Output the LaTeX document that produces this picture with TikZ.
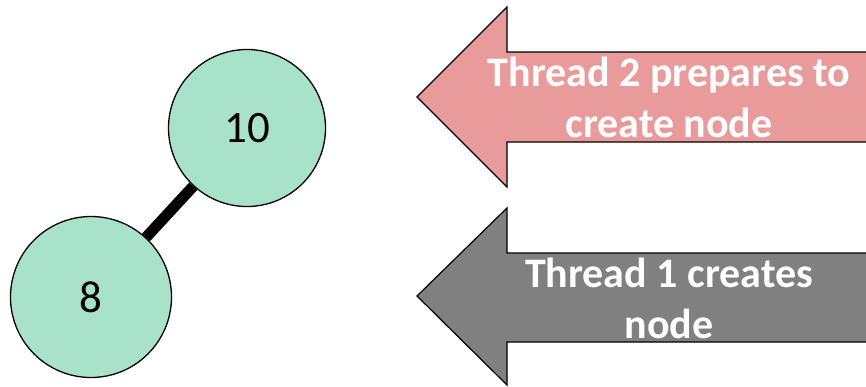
\documentclass[tikz,border=0pt]{standalone}
\usepackage{fontspec}
\setmainfont{Carlito}
\usepackage{tikz}
\usetikzlibrary{backgrounds}
\definecolor{nodefill}{HTML}{A9E2CB}
\definecolor{pending}{HTML}{E99A9A}
\definecolor{done}{HTML}{808080}

\begin{document}
\begin{tikzpicture}[x=1pt, y=-1pt,
    treenode/.style={circle, draw, line width=1.3pt, fill=nodefill, inner sep=0pt,
        font=\fontsize{45}{50}\selectfont},
    thread/.style={draw=black, line width=1.2pt},
    threadtext/.style={text=white, align=center, anchor=base,
        font=\bfseries\fontsize{42}{51}\selectfont}]
    \clip (0,0) rectangle (866,386);

    % Tree: 8 hangs off the left of 10
    \node[treenode, minimum size=157pt] (n10) at (247,128) {10};
    \node[treenode, minimum size=161pt] (n8) at (91,297) {8};
    \begin{scope}[on background layer]
        \draw[line width=11pt] (n10) -- (n8);
    \end{scope}

    % Thread 2 arrow (top)
    \fill[pending] (417,97) -- (507,7) -- (507,52) -- (880,52) -- (880,142)
        -- (507,142) -- (507,187) -- cycle;
    \draw[thread] (880,52) -- (507,52) -- (507,7) -- (417,97) -- (507,187)
        -- (507,142) -- (880,142);
    \node[threadtext] (t2) at (669,137) {Thread 2 prepares to\\create node};

    % Thread 1 arrow (bottom)
    \fill[done] (417,296) -- (507,208) -- (507,253) -- (880,253) -- (880,342)
        -- (507,342) -- (507,385) -- cycle;
    \draw[thread] (880,253) -- (507,253) -- (507,208) -- (417,296) -- (507,385)
        -- (507,342) -- (880,342);
    \node[threadtext] (t1) at (669,338) {Thread 1 creates\\node};
\end{tikzpicture}
\end{document}
